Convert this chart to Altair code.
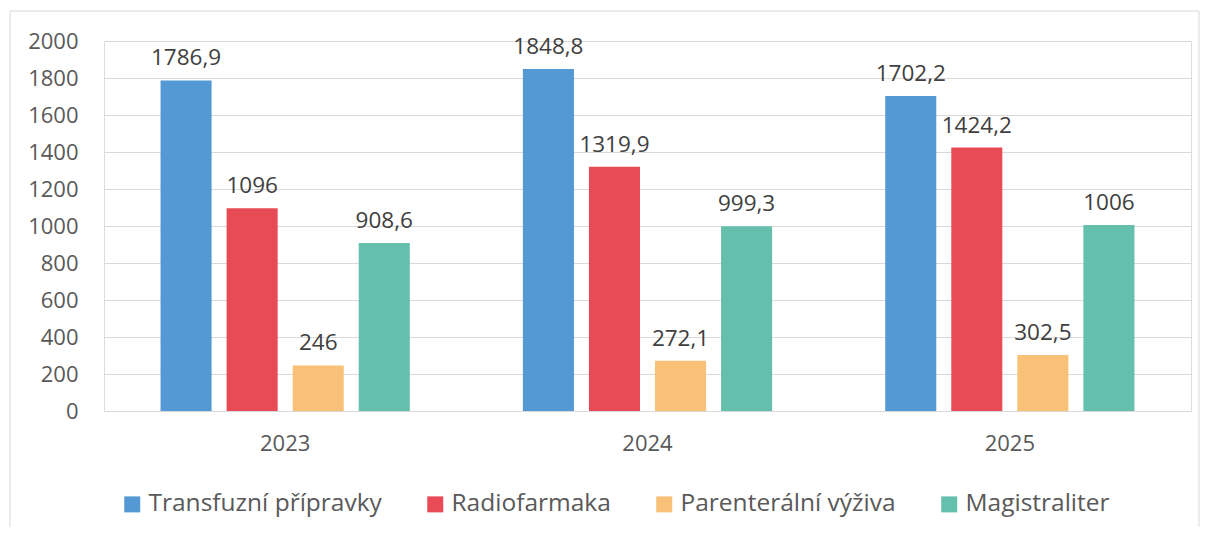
import altair as alt
import pandas as pd

years = ["2023", "2024", "2025"]
series = ["Transfuzní přípravky", "Radiofarmaka", "Parenterální výživa", "Magistraliter"]
transfuzni = [1786.9, 1848.8, 1702.2]
radiofarmaka = [1096, 1319.9, 1424.2]
parenteralni = [246, 272.1, 302.5]
magistraliter = [908.6, 999.3, 1006]
colors = ["#5499d4", "#e84b56", "#f8c177", "#65bfad"]

rows = []
for s, vals in zip(series, [transfuzni, radiofarmaka, parenteralni, magistraliter]):
    for y, v in zip(years, vals):
        rows.append({"year": y, "series": s, "value": v,
                     "label": f"{v:g}".replace(".", ",")})
df = pd.DataFrame(rows)

FONT = "Open Sans"
AX = "#595959"
GRID = "#d9d9d9"

x = alt.X("year:N", sort=years,
          scale=alt.Scale(paddingInner=0, paddingOuter=0),
          axis=alt.Axis(title=None, labelAngle=0, ticks=False, domainColor=GRID,
                        domainWidth=1, labelPadding=22, labelFontSize=22,
                        labelColor=AX, labelFont=FONT, grid=False))
xo = alt.XOffset("series:N", sort=series,
                 scale=alt.Scale(paddingInner=0.227, paddingOuter=0.856))
y = alt.Y("value:Q", scale=alt.Scale(domain=[0, 2000]),
          axis=alt.Axis(title=None, values=list(range(0, 2001, 200)), ticks=False,
                        format="d", domain=False, gridColor=GRID, labelPadding=26,
                        labelFontSize=22, labelColor=AX, labelFont=FONT))

base = alt.Chart(df)
bars = base.mark_bar().encode(
    x=x, xOffset=xo, y=y,
    color=alt.Color("series:N", sort=series,
                    scale=alt.Scale(domain=series, range=colors),
                    legend=alt.Legend(title=None, orient="none", legendX=16, legendY=451,
                                      direction="horizontal", symbolType="square",
                                      symbolSize=256, symbolStrokeWidth=0,
                                      labelFontSize=24.5, labelColor=AX, labelFont=FONT,
                                      labelOffset=4, columnPadding=41, labelLimit=400)),
)
labels = base.mark_text(baseline="alphabetic", dy=-15, fontSize=22.5,
                        color="#404040", font=FONT).encode(
    x=x, xOffset=xo, y=y, text="label:N")

one = pd.DataFrame({"a": [0]})
frame_left = alt.Chart(one).mark_rule(color=GRID, strokeWidth=1).encode(
    x=alt.value(-94), x2=alt.value(-94), y=alt.value(-30), y2=alt.value(486))
frame_top = alt.Chart(one).mark_rule(color=GRID, strokeWidth=1).encode(
    x=alt.value(-94), x2=alt.value(1095), y=alt.value(-30), y2=alt.value(-30))
frame_right = alt.Chart(one).mark_rule(color=GRID, strokeWidth=1).encode(
    x=alt.value(1095), x2=alt.value(1095), y=alt.value(-30), y2=alt.value(486))

chart = alt.layer(bars, labels, frame_left, frame_top, frame_right).properties(
    width=1087, height=370,
    padding={"left": 1, "top": 2, "right": 0, "bottom": 0},
).configure_view(stroke=None).configure(background="white")

chart.save("out.html", embed_options={"renderer": "svg", "actions": False})
